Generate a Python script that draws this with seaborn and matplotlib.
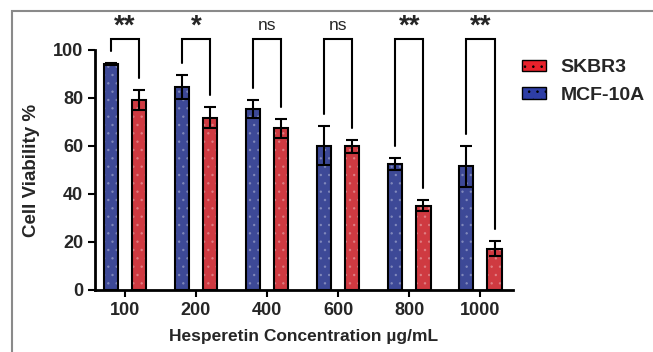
import numpy as np
import pandas as pd
import matplotlib
matplotlib.use("Agg")
import matplotlib.pyplot as plt
import seaborn as sns
from matplotlib.patches import Patch, Rectangle

concentrations = ["100", "200", "400", "600", "800", "1000"]
mcf10a = [94.2, 84.6, 75.4, 60.1, 52.4, 51.5]
mcf10a_err = [0.5, 4.9, 3.7, 8.2, 2.4, 8.7]
skbr3 = [79.2, 71.8, 67.4, 59.8, 35.2, 17.2]
skbr3_err = [4.2, 4.5, 3.9, 2.8, 2.1, 3.2]
signif = ["**", "*", "ns", "ns", "**", "**"]

blue = "#2e3ea6"
red = "#e8212b"

df = pd.DataFrame({
    "conc": concentrations * 2,
    "line": ["MCF-10A"] * 6 + ["SKBR3"] * 6,
    "val": mcf10a + skbr3,
})

sns.set_style("ticks")
plt.rcParams["font.family"] = ["Liberation Sans", "DejaVu Sans"]
plt.rcParams["hatch.linewidth"] = 0.6

fig = plt.figure(figsize=(6.53, 3.52), dpi=100)
ax = fig.add_axes([95 / 653, 1 - 290 / 352, (513 - 95) / 653, 240 / 352])

sns.barplot(data=df, x="conc", y="val", hue="line", hue_order=["MCF-10A", "SKBR3"],
            palette=[blue, red], order=concentrations, width=0.8, gap=0.5,
            errorbar=None, edgecolor="black", linewidth=1.5, legend=False, ax=ax)

# dotted texture + errorbars from the bar positions
bars = [p for p in ax.patches if p.get_height() > 0]
bars.sort(key=lambda p: p.get_x())
for p in bars:
    p.set_hatch("..")
    if hasattr(p, "set_hatchcolor"):
        p.set_hatchcolor((1, 1, 1, 0.25))
    else:
        p._hatch_color = (1, 1, 1, 0.25)

blue_x = [p.get_x() + p.get_width() / 2 for p in bars[0::2]]
red_x = [p.get_x() + p.get_width() / 2 for p in bars[1::2]]
ax.errorbar(blue_x, mcf10a, yerr=mcf10a_err, fmt="none", ecolor="black",
            elinewidth=1.5, capsize=4, capthick=1.5, zorder=5)
ax.errorbar(red_x, skbr3, yerr=skbr3_err, fmt="none", ecolor="black",
            elinewidth=1.5, capsize=4, capthick=1.5, zorder=5)

# significance brackets
top = 104.5
for i in range(6):
    lb = mcf10a[i] + mcf10a_err[i] + 5
    rb = skbr3[i] + skbr3_err[i] + 5
    ax.plot([blue_x[i], blue_x[i], red_x[i], red_x[i]], [lb, top, top, rb],
            color="black", lw=1.5, clip_on=False, solid_joinstyle="miter")
    mid = (blue_x[i] + red_x[i]) / 2
    if signif[i] == "ns":
        ax.text(mid, 107, "ns", ha="center", va="bottom", fontsize=12.5, clip_on=False)
    else:
        ax.text(mid, 104.5, signif[i], ha="center", va="bottom", fontsize=20,
                fontweight="bold", clip_on=False)

ax.set_ylim(0, 100)
ax.set_xlim(-0.42, 5.46)
ax.set_yticks([0, 20, 40, 60, 80, 100])
ax.set_xlabel("Hesperetin Concentration µg/mL", fontsize=12.5, fontweight="bold",
              labelpad=7)
ax.set_ylabel("Cell Viability %", fontsize=13.5, fontweight="bold", labelpad=9)
for lab in ax.get_xticklabels() + ax.get_yticklabels():
    lab.set_fontweight("bold")
ax.tick_params(axis="both", labelsize=13, width=1.5, length=5, color="black")
for s in ["left", "bottom"]:
    ax.spines[s].set_linewidth(2)
    ax.spines[s].set_color("black")
sns.despine(ax=ax)

handles = [Patch(facecolor=red, edgecolor="black", hatch="..", label="SKBR3"),
           Patch(facecolor=blue, edgecolor="black", hatch="..", label="MCF-10A")]
leg = fig.legend(handles=handles, loc="upper left", bbox_to_anchor=(504 / 653, 1 - 42 / 352),
                 frameon=False, prop={"weight": "bold", "size": 14}, handlelength=1.25,
                 handleheight=0.55, labelspacing=0.55, handletextpad=0.75)

# grey frame of the original figure
fig.patches.append(Rectangle((12 / 653, -0.1), 1.0, 1 - 11 / 352 + 0.1,
                             transform=fig.transFigure, fill=False,
                             edgecolor="#8a8a8a", lw=1.5))

fig.savefig("out.png", dpi=100)
